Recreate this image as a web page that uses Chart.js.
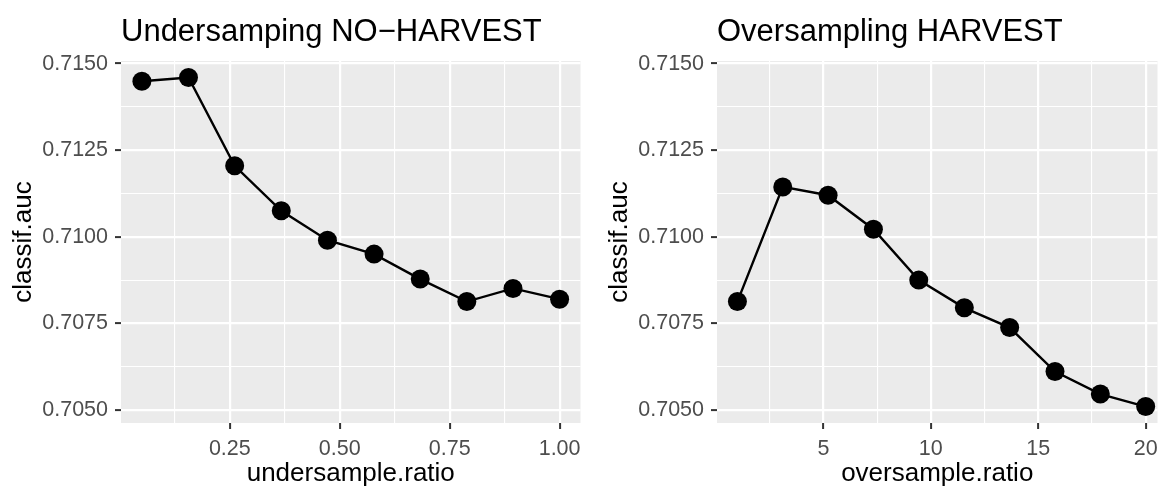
<!DOCTYPE html>
<html>
<head>
<meta charset="utf-8">
<script src="https://cdn.jsdelivr.net/npm/chart.js@4.4.1/dist/chart.umd.min.js"></script>
<style>
  body { margin: 0; background: #fff; }
  #wrap { position: relative; width: 1167px; height: 486px; overflow: hidden; }
  canvas { position: absolute; top: 0; }
  #underChart { left: 0; }
  #overChart { left: 596px; }
</style>
</head>
<body>
<div id="wrap">
  <canvas id="underChart" width="590" height="486"></canvas>
  <canvas id="overChart" width="571" height="486"></canvas>
</div>
<script>
const underRatio = [0.05, 0.156, 0.261, 0.367, 0.472, 0.578, 0.683, 0.789, 0.894, 1.00];
const underAuc = [0.71449, 0.71460, 0.71205, 0.71075, 0.70990, 0.70950, 0.70878, 0.70813, 0.70851, 0.70820];

const overRatio = [1, 3.11, 5.22, 7.33, 9.44, 11.56, 13.67, 15.78, 17.89, 20];
const overAuc = [0.70813, 0.71144, 0.71120, 0.71022, 0.70875, 0.70795, 0.70738, 0.70611, 0.70546, 0.70510];

const aucTicks = [0.7050, 0.7075, 0.7100, 0.7125, 0.7150];
const underTicks = [0.25, 0.50, 0.75, 1.00];
const overTicks = [5, 10, 15, 20];

const FONT = '"Liberation Sans", Arial, Helvetica, sans-serif';
Chart.defaults.font.family = FONT;
Chart.defaults.devicePixelRatio = 1;

// grey panel behind the grid, ggplot style
const panelBg = {
    id: 'panelBg',
    beforeDraw(chart) {
        const {ctx, chartArea} = chart;
        ctx.save();
        ctx.fillStyle = '#EBEBEB';
        ctx.fillRect(chartArea.left, chartArea.top, chartArea.width, chartArea.height);
        ctx.restore();
    }
};

function step(majors) {
    return majors[1] - majors[0];
}

function isMajor(majors, v) {
    return majors.some(mv => Math.abs(mv - v) < step(majors) / 100);
}

// major ticks plus the half-step minor lines between them
function withMinor(majors, min, max) {
    const s = step(majors);
    const out = [];
    for (let i = -1; i <= majors.length; i++) {
        const v = majors[0] + i * s;
        if (v >= min && v <= max) out.push({value: v});
        const m = v + s / 2;
        if (m >= min && m <= max) out.push({value: m});
    }
    return out;
}

function axisOpts(majors, min, max, fmt, extra) {
    return Object.assign({
        type: 'linear',
        min: min,
        max: max,
        border: {display: false},
        afterBuildTicks(scale) {
            scale.ticks = withMinor(majors, min, max);
        },
        grid: {
            color: '#FFFFFF',
            lineWidth: ctx => isMajor(majors, ctx.tick.value) ? 2.2 : 1.1,
            tickColor: ctx => isMajor(majors, ctx.tick.value) ? '#333333' : 'rgba(0,0,0,0)',
            tickWidth: 2,
            tickLength: 6
        },
        ticks: {
            autoSkip: false,
            maxRotation: 0,
            padding: 7,
            color: '#4D4D4D',
            font: {size: 21.5},
            callback: v => isMajor(majors, v) ? fmt(v) : ''
        }
    }, extra);
}

function makeChart(id, title, xTitle, xs, ys, xMajors, xMin, xMax, xFmt) {
    const points = xs.map((x, i) => ({x: x, y: ys[i]}));
    return new Chart(id, {
        type: 'line',
        data: {
            datasets: [{
                data: points,
                borderColor: '#000000',
                backgroundColor: '#000000',
                borderWidth: 2.4,
                pointRadius: 9.5,
                pointBorderWidth: 0,
                tension: 0
            }]
        },
        options: {
            responsive: false,
            animation: false,
            layout: {padding: 0},
            plugins: {
                legend: {display: false},
                tooltip: {enabled: false},
                title: {
                    display: true,
                    text: title,
                    align: 'start',
                    fullSize: false,
                    color: '#000000',
                    font: {size: 31, weight: 'normal'},
                    padding: {top: 14, bottom: 9.8}
                }
            },
            scales: {
                x: axisOpts(xMajors, xMin, xMax, xFmt, {
                    position: 'bottom',
                    afterFit(scale) { scale.height = 63; },
                    title: {
                        display: true,
                        text: xTitle,
                        color: '#000000',
                        font: {size: 26, lineHeight: 0.95},
                        padding: {top: 0, bottom: 0}
                    }
                }),
                y: axisOpts(aucTicks, 0.704625, 0.715075, v => v.toFixed(4), {
                    position: 'left',
                    afterFit(scale) { scale.width = 121; },
                    title: {
                        display: true,
                        text: 'classif.auc',
                        color: '#000000',
                        font: {size: 26, lineHeight: 1.1},
                        padding: {top: 10, bottom: 0}
                    }
                })
            }
        },
        plugins: [panelBg]
    });
}

let underChart = document.getElementById('underChart');
if (underChart) {
    makeChart('underChart', 'Undersamping NO\u2212HARVEST', 'undersample.ratio',
        underRatio, underAuc, underTicks, 0.0025, 1.0475, v => v.toFixed(2));
}

let overChart = document.getElementById('overChart');
if (overChart) {
    makeChart('overChart', 'Oversampling HARVEST', 'oversample.ratio',
        overRatio, overAuc, overTicks, 0.05, 20.55, v => String(v));
}
</script>
</body>
</html>
